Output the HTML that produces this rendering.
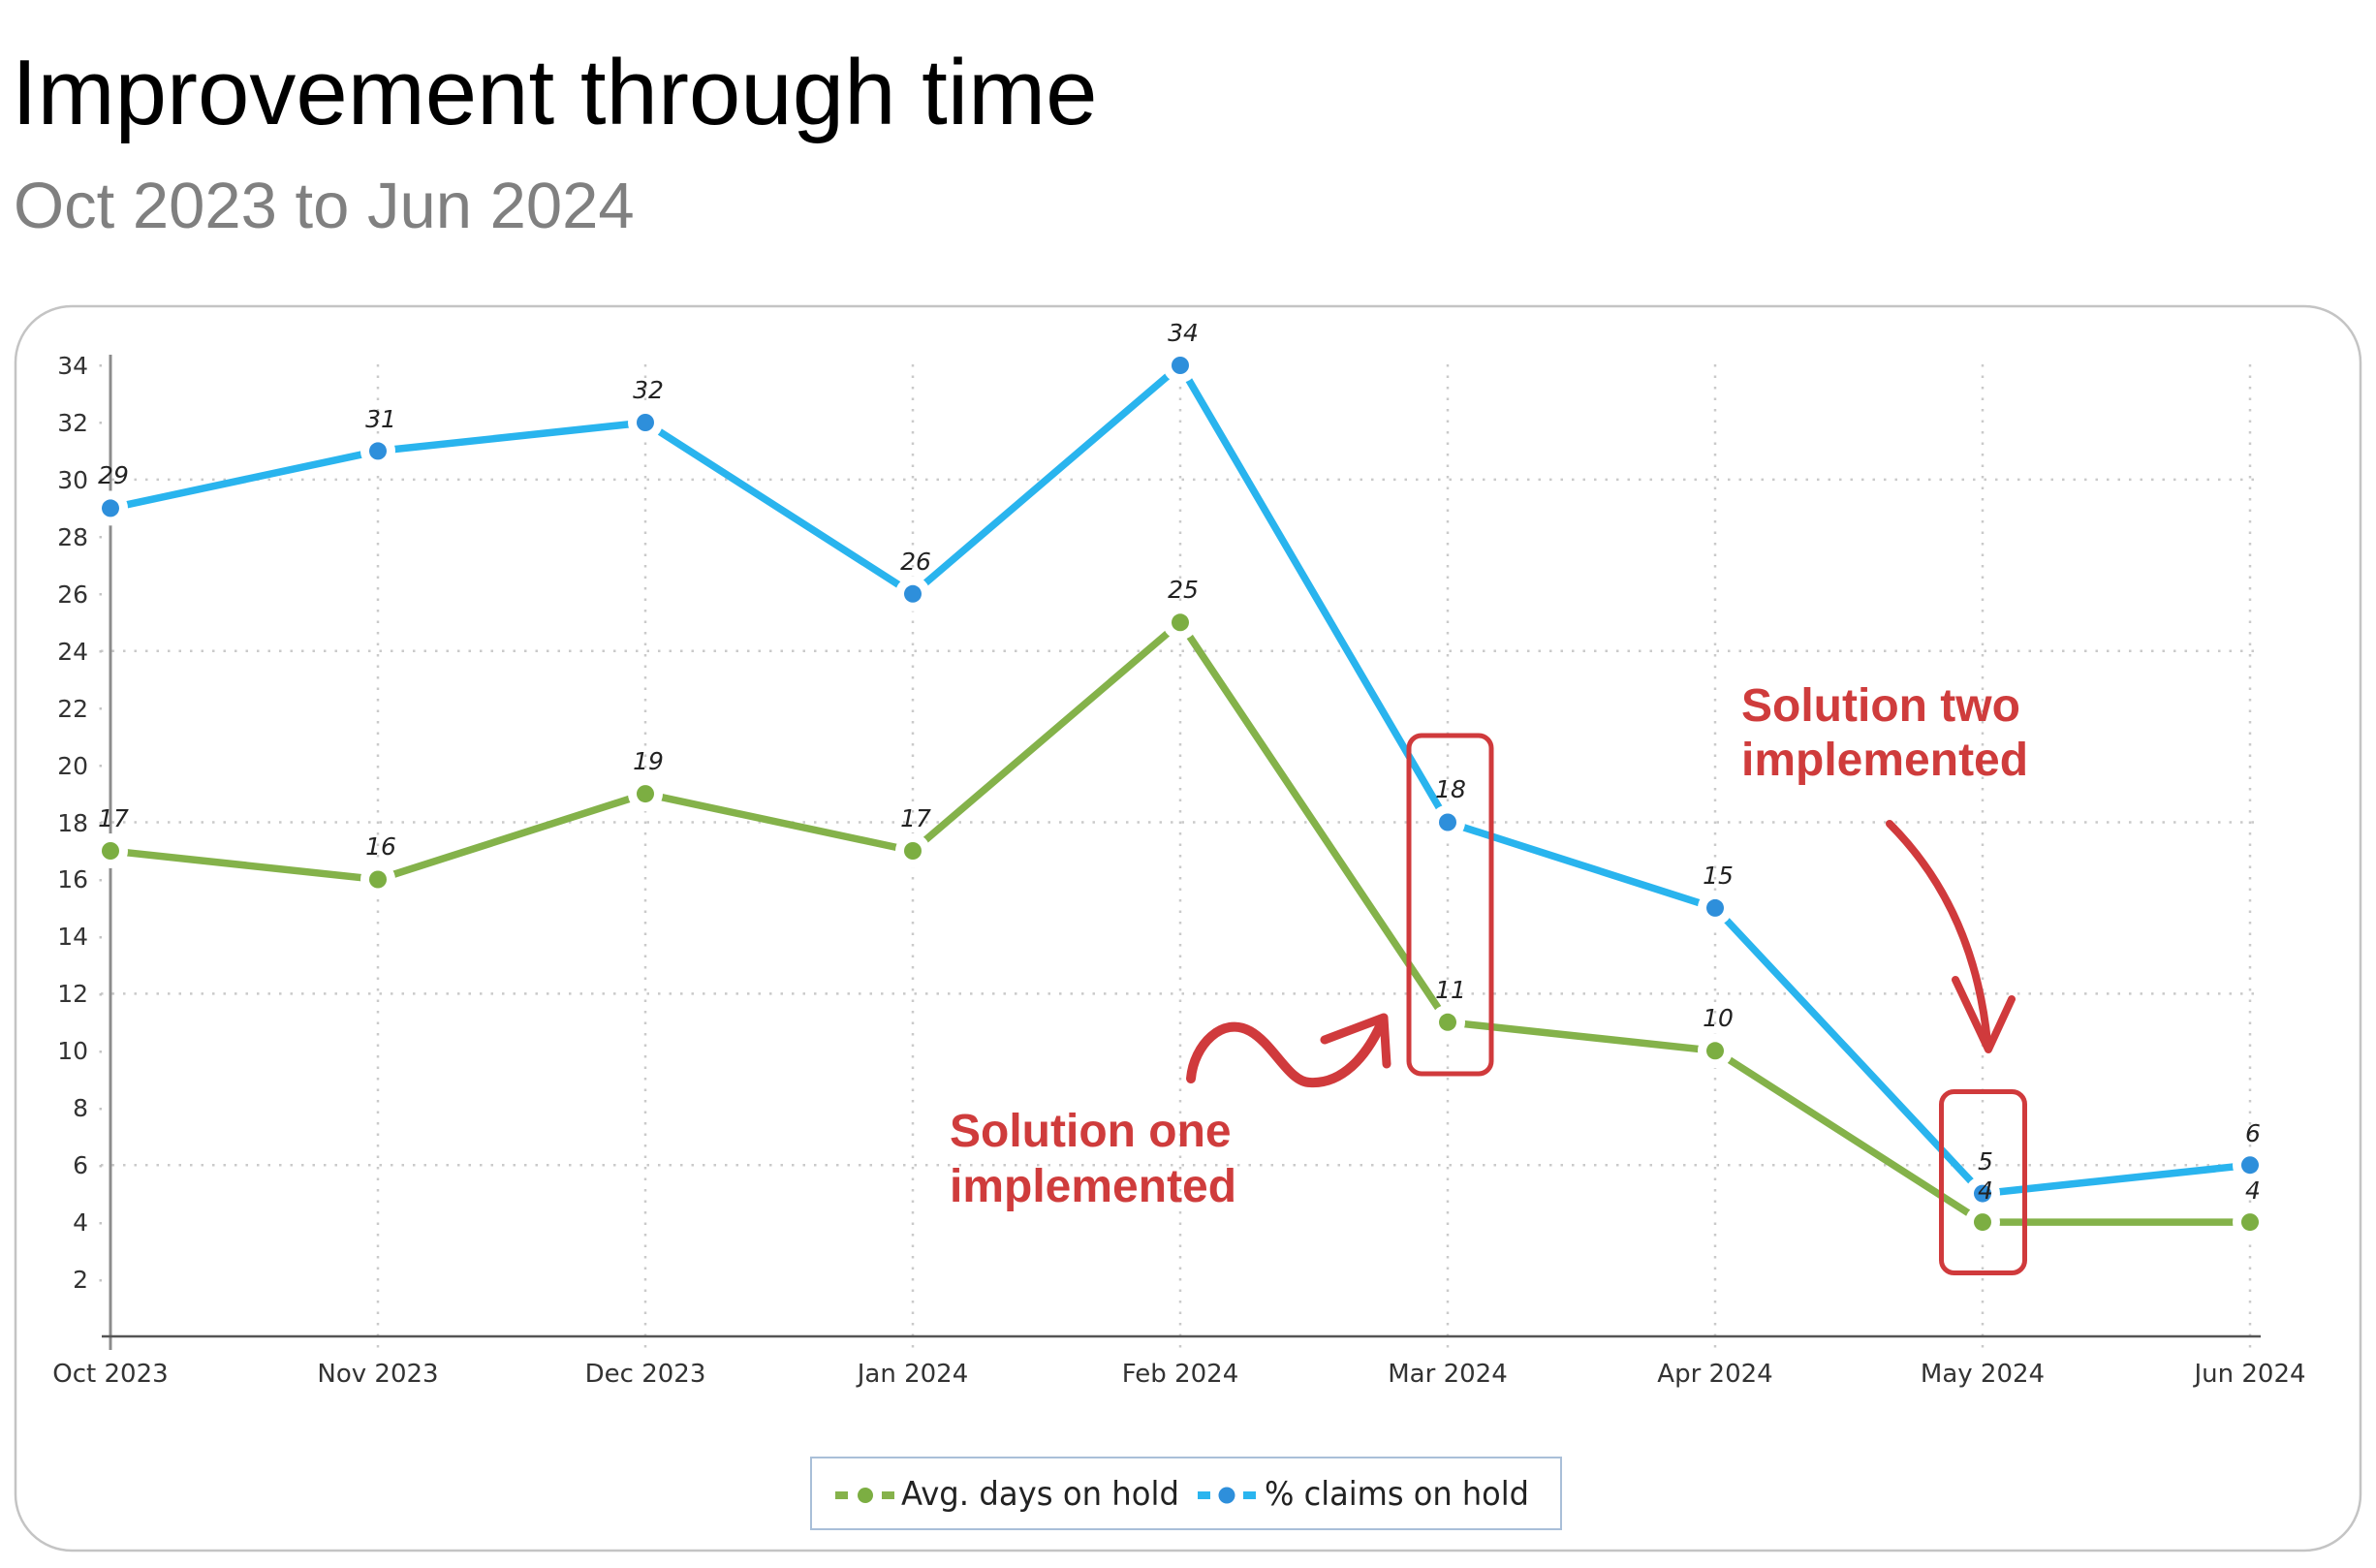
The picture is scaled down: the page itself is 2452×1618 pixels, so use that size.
<!DOCTYPE html>
<html>
<head>
<meta charset="utf-8">
<style>
html,body{margin:0;padding:0;background:#fff;}
body{width:2452px;height:1618px;overflow:hidden;}
svg{display:block;}
.yl{font-family:"DejaVu Sans","Liberation Sans",sans-serif;font-size:25px;fill:#333;text-anchor:end;}
.xl{font-family:"DejaVu Sans","Liberation Sans",sans-serif;font-size:26px;fill:#333;text-anchor:middle;}
.dl{font-family:"DejaVu Sans","Liberation Sans",sans-serif;font-size:25px;font-style:italic;fill:#222;text-anchor:middle;}
.ann{font-family:"Liberation Sans",Arial,sans-serif;font-size:48px;font-weight:bold;fill:#cf3c3c;}
.lg{font-family:"DejaVu Sans","Liberation Sans",sans-serif;font-size:34px;fill:#222;}
</style>
</head>
<body>
<svg width="2452" height="1618" viewBox="0 0 2452 1618" xmlns="http://www.w3.org/2000/svg">
<rect x="0" y="0" width="2452" height="1618" fill="#fff"/>
<!-- Title -->
<text x="12" y="128" font-family="'Liberation Sans',Arial,sans-serif" font-size="96" fill="#000">Improvement through time</text>
<text x="14" y="235" font-family="'Liberation Sans',Arial,sans-serif" font-size="67" fill="#808080">Oct 2023 to Jun 2024</text>

<!-- Chart card -->
<rect x="16" y="316" width="2420" height="1284" rx="58" ry="58" fill="#fff" stroke="#c4c4c4" stroke-width="2.5"/>

<!-- grid: horizontal dotted -->
<g stroke="#cacaca" stroke-width="2.5" stroke-dasharray="2.5 9" fill="none">
<line x1="104" y1="494.9" x2="2333" y2="494.9"/>
<line x1="104" y1="671.7" x2="2333" y2="671.7"/>
<line x1="104" y1="848.5" x2="2333" y2="848.5"/>
<line x1="104" y1="1025.4" x2="2333" y2="1025.4"/>
<line x1="104" y1="1202.2" x2="2333" y2="1202.2"/>
<!-- vertical -->
<line x1="390" y1="376" x2="390" y2="1393"/>
<line x1="666" y1="376" x2="666" y2="1393"/>
<line x1="942" y1="376" x2="942" y2="1393"/>
<line x1="1218" y1="376" x2="1218" y2="1393"/>
<line x1="1494" y1="376" x2="1494" y2="1393"/>
<line x1="1770" y1="376" x2="1770" y2="1393"/>
<line x1="2046" y1="376" x2="2046" y2="1393"/>
<line x1="2322" y1="376" x2="2322" y2="1393"/>
</g>
<!-- y ticks dots -->
<g fill="#c4c4c4">
<rect x="102.5" y="376" width="2.5" height="2.5"/>
<rect x="102.5" y="435" width="2.5" height="2.5"/>
<rect x="102.5" y="494" width="2.5" height="2.5"/>
<rect x="102.5" y="553" width="2.5" height="2.5"/>
<rect x="102.5" y="612" width="2.5" height="2.5"/>
<rect x="102.5" y="671" width="2.5" height="2.5"/>
<rect x="102.5" y="730" width="2.5" height="2.5"/>
<rect x="102.5" y="789" width="2.5" height="2.5"/>
<rect x="102.5" y="848" width="2.5" height="2.5"/>
<rect x="102.5" y="907" width="2.5" height="2.5"/>
<rect x="102.5" y="966" width="2.5" height="2.5"/>
<rect x="102.5" y="1025" width="2.5" height="2.5"/>
<rect x="102.5" y="1084" width="2.5" height="2.5"/>
<rect x="102.5" y="1143" width="2.5" height="2.5"/>
<rect x="102.5" y="1202" width="2.5" height="2.5"/>
<rect x="102.5" y="1261" width="2.5" height="2.5"/>
<rect x="102.5" y="1320" width="2.5" height="2.5"/>
</g>

<!-- axes -->
<line x1="114" y1="366" x2="114" y2="1393" stroke="#8c8c8c" stroke-width="3"/>
<line x1="105" y1="1379" x2="2333" y2="1379" stroke="#555" stroke-width="2.5"/>

<!-- y labels -->
<text class="yl" x="91" y="386">34</text>
<text class="yl" x="91" y="445">32</text>
<text class="yl" x="91" y="504">30</text>
<text class="yl" x="91" y="563">28</text>
<text class="yl" x="91" y="622">26</text>
<text class="yl" x="91" y="681">24</text>
<text class="yl" x="91" y="740">22</text>
<text class="yl" x="91" y="799">20</text>
<text class="yl" x="91" y="858">18</text>
<text class="yl" x="91" y="916">16</text>
<text class="yl" x="91" y="975">14</text>
<text class="yl" x="91" y="1034">12</text>
<text class="yl" x="91" y="1093">10</text>
<text class="yl" x="91" y="1152">8</text>
<text class="yl" x="91" y="1211">6</text>
<text class="yl" x="91" y="1270">4</text>
<text class="yl" x="91" y="1329">2</text>

<!-- x labels -->
<text class="xl" x="114" y="1426">Oct 2023</text>
<text class="xl" x="390" y="1426">Nov 2023</text>
<text class="xl" x="666" y="1426">Dec 2023</text>
<text class="xl" x="942" y="1426">Jan 2024</text>
<text class="xl" x="1218" y="1426">Feb 2024</text>
<text class="xl" x="1494" y="1426">Mar 2024</text>
<text class="xl" x="1770" y="1426">Apr 2024</text>
<text class="xl" x="2046" y="1426">May 2024</text>
<text class="xl" x="2322" y="1426">Jun 2024</text>

<!-- Green series: 17,16,19,17,25,11,10,4,4 -->
<polyline fill="none" stroke="#84b24a" stroke-width="7.5" stroke-linejoin="round"
 points="114,878.0 390,907.5 666,819.1 942,878.0 1218,642.3 1494,1054.8 1770,1084.3 2046,1261.1 2322,1261.1"/>
<g fill="#fff">
<circle cx="114" cy="878.0" r="18"/><circle cx="390" cy="907.5" r="18"/><circle cx="666" cy="819.1" r="18"/>
<circle cx="942" cy="878.0" r="18"/><circle cx="1218" cy="642.3" r="18"/><circle cx="1494" cy="1054.8" r="18"/>
<circle cx="1770" cy="1084.3" r="18"/><circle cx="2046" cy="1261.1" r="18"/><circle cx="2322" cy="1261.1" r="18"/>
</g>
<g fill="#7cae42">
<circle cx="114" cy="878.0" r="9"/><circle cx="390" cy="907.5" r="9"/><circle cx="666" cy="819.1" r="9"/>
<circle cx="942" cy="878.0" r="9"/><circle cx="1218" cy="642.3" r="9"/><circle cx="1494" cy="1054.8" r="9"/>
<circle cx="1770" cy="1084.3" r="9"/><circle cx="2046" cy="1261.1" r="9"/><circle cx="2322" cy="1261.1" r="9"/>
</g>

<!-- Blue series: 29,31,32,26,34,18,15,5,6 -->
<polyline fill="none" stroke="#29b4ee" stroke-width="7.5" stroke-linejoin="round"
 points="114,524.4 390,465.4 666,436.0 942,612.8 1218,377.0 1494,848.5 1770,936.9 2046,1231.6 2322,1202.2"/>
<g fill="#fff">
<circle cx="114" cy="524.4" r="18"/><circle cx="390" cy="465.4" r="18"/><circle cx="666" cy="436.0" r="18"/>
<circle cx="942" cy="612.8" r="18"/><circle cx="1218" cy="377.0" r="18"/><circle cx="1494" cy="848.5" r="18"/>
<circle cx="1770" cy="936.9" r="18"/><circle cx="2046" cy="1231.6" r="18"/><circle cx="2322" cy="1202.2" r="18"/>
</g>
<g fill="#2e8fdb">
<circle cx="114" cy="524.4" r="9"/><circle cx="390" cy="465.4" r="9"/><circle cx="666" cy="436.0" r="9"/>
<circle cx="942" cy="612.8" r="9"/><circle cx="1218" cy="377.0" r="9"/><circle cx="1494" cy="848.5" r="9"/>
<circle cx="1770" cy="936.9" r="9"/><circle cx="2046" cy="1231.6" r="9"/><circle cx="2322" cy="1202.2" r="9"/>
</g>

<!-- data labels green -->
<text class="dl" x="117" y="853">17</text>
<text class="dl" x="393" y="882">16</text>
<text class="dl" x="669" y="794">19</text>
<text class="dl" x="945" y="853">17</text>
<text class="dl" x="1221" y="617">25</text>
<text class="dl" x="1497" y="1030">11</text>
<text class="dl" x="1773" y="1059">10</text>
<text class="dl" x="2049" y="1237">4</text>
<text class="dl" x="2325" y="1237">4</text>
<!-- data labels blue -->
<text class="dl" x="117" y="499">29</text>
<text class="dl" x="393" y="441">31</text>
<text class="dl" x="669" y="411">32</text>
<text class="dl" x="945" y="588">26</text>
<text class="dl" x="1221" y="352">34</text>
<text class="dl" x="1497" y="823">18</text>
<text class="dl" x="1773" y="912">15</text>
<text class="dl" x="2049" y="1207">5</text>
<text class="dl" x="2325" y="1178">6</text>

<!-- Annotations -->
<rect x="1454" y="759" width="85" height="349" rx="13" ry="13" fill="none" stroke="#d03a3c" stroke-width="5"/>
<rect x="2003.5" y="1126.5" width="86" height="187" rx="13" ry="13" fill="none" stroke="#d03a3c" stroke-width="5"/>

<path d="M1229,1113 C1232,1078 1262,1048 1290,1064 C1315,1078 1330,1117 1352,1117 C1385,1119 1410,1090 1425,1057"
 fill="none" stroke="#d03a3c" stroke-width="10" stroke-linecap="round"/>
<path d="M1367,1073 L1428,1050 L1431,1098" fill="none" stroke="#d03a3c" stroke-width="9" stroke-linejoin="round" stroke-linecap="round"/>

<path d="M1950,850 C1995,895 2040,965 2051,1075" fill="none" stroke="#d03a3c" stroke-width="8" stroke-linecap="round"/>
<path d="M2018,1011 L2052,1083 L2076,1031" fill="none" stroke="#d03a3c" stroke-width="8" stroke-linejoin="round" stroke-linecap="round"/>

<text class="ann" x="980" y="1183">Solution one</text>
<text class="ann" x="980" y="1240">implemented</text>
<text class="ann" x="1797" y="744">Solution two</text>
<text class="ann" x="1797" y="800">implemented</text>

<!-- Legend -->
<rect x="837" y="1504" width="774" height="74" fill="#fff" stroke="#a9bfd8" stroke-width="2"/>
<rect x="862" y="1539" width="13" height="8" fill="#86b24b"/>
<circle cx="893" cy="1543" r="8" fill="#7cae42"/>
<rect x="910" y="1539" width="13" height="8" fill="#86b24b"/>
<text class="lg" x="930" y="1553" textLength="287" lengthAdjust="spacingAndGlyphs">Avg. days on hold</text>
<rect x="1236" y="1539" width="13" height="8" fill="#2ab5ef"/>
<circle cx="1266" cy="1543" r="8.5" fill="#2e8fdb"/>
<rect x="1283" y="1539" width="13" height="8" fill="#2ab5ef"/>
<text class="lg" x="1305" y="1553" textLength="273" lengthAdjust="spacingAndGlyphs">% claims on hold</text>
</svg>
</body>
</html>
